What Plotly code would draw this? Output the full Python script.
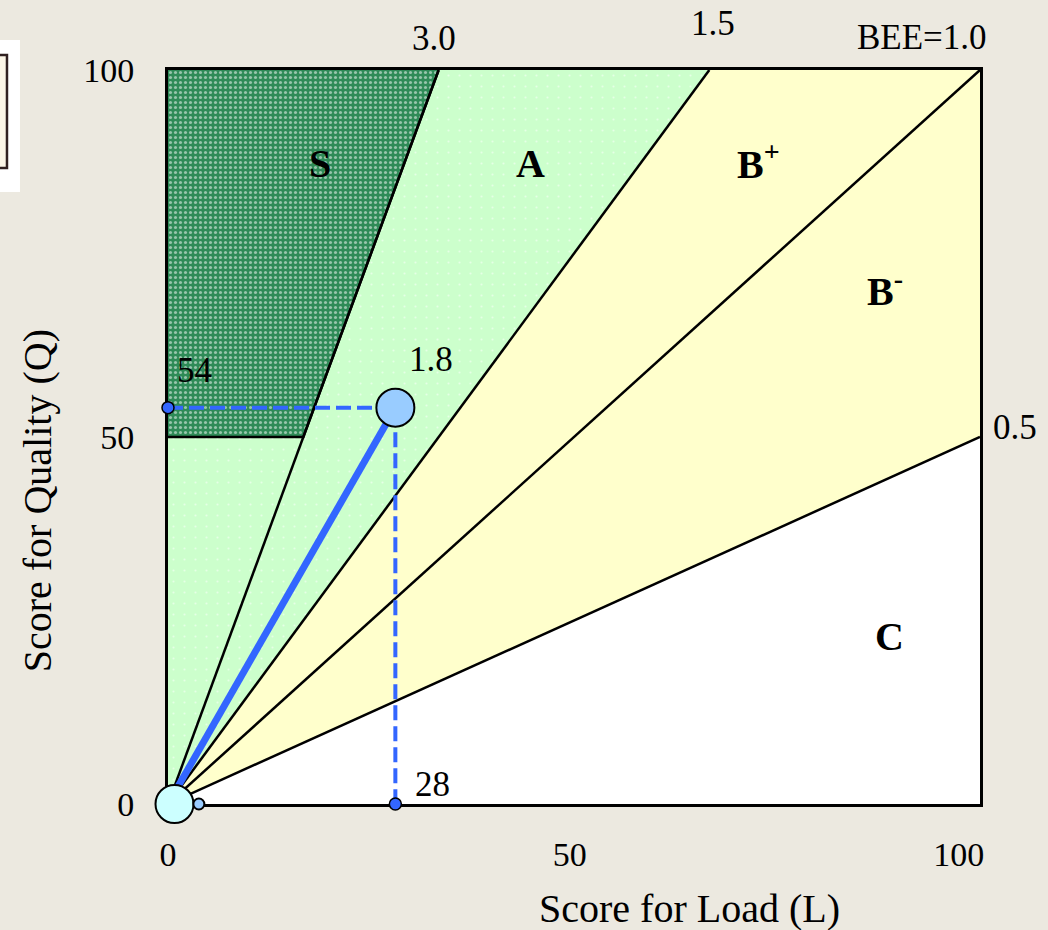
import plotly.graph_objects as go

# BEE rank boundaries (Q = BEE * L) and the assessed building
bee_lines = [3.0, 1.5, 1.0, 0.5]
bee_labels = ["3.0", "1.5", "BEE=1.0", "0.5"]
s_rank_q_min = 50
score_l = 28
score_q = 54
bee_text = "1.8"
ref_l = [0.8, 3.8]      # circles near the origin
ref_q = [0, 0]

rank_names = ["S", "A", "B<sup>+</sup>", "B<sup>-</sup>", "C"]
rank_l = [18.7, 44.6, 72.7, 88.3, 88.9]
rank_q = [87.3, 87.3, 87.5, 70.3, 22.8]

tick_vals = [0, 50, 100]
x_tick_text = ["0", "50\u00a0", "100\u00a0\u00a0\u00a0\u00a0\u00a0"]
y_tick_text = ["0", "50", "100"]

FONT = "Liberation Serif, Times New Roman, serif"
BLUE = "#3366FF"
BG = "#ECE9E0"


def end_point(bee):
    # where the line Q = bee * L leaves the 100 x 100 square
    if bee >= 1:
        return 100 / bee, 100
    return 100, 100 * bee


ends = [end_point(b) for b in bee_lines]
s_corner = s_rank_q_min / bee_lines[0]

fig = go.Figure()

# B+ / B- (yellow)
fig.add_trace(go.Scatter(
    x=[0, ends[3][0], 100, ends[1][0], 0], y=[0, ends[3][1], 100, ends[1][1], 0],
    fill="toself", fillcolor="#FFFFCC", mode="none", hoverinfo="skip"))

# A (light green, sparse dots)
fig.add_trace(go.Scatter(
    x=[0, ends[1][0], 0, 0], y=[0, ends[1][1], 100, 0],
    fill="toself", mode="none", hoverinfo="skip",
    fillcolor="#CCFFCC",
    fillpattern=dict(shape=".", bgcolor="#CCFFCC", fgcolor="white",
                     size=11, solidity=0.03)))

# S (dark green, dense dots)
fig.add_trace(go.Scatter(
    x=[0, s_corner, ends[0][0], 0, 0], y=[s_rank_q_min, s_rank_q_min, 100, 100, s_rank_q_min],
    fill="toself", mode="none", hoverinfo="skip",
    fillcolor="#2E8B57",
    fillpattern=dict(shape=".", bgcolor="#2E8B57", fgcolor="white",
                     size=5, solidity=0.3)))

# rank boundary lines
for ex, ey in ends:
    fig.add_trace(go.Scatter(x=[0, ex], y=[0, ey], mode="lines",
                             line=dict(color="black", width=2.5), hoverinfo="skip"))
fig.add_trace(go.Scatter(x=[0, s_corner, ends[0][0]], y=[s_rank_q_min, s_rank_q_min, 100],
                         mode="lines", line=dict(color="black", width=2.5), hoverinfo="skip"))

# guide lines to the axes
fig.add_trace(go.Scatter(x=[0, score_l, score_l], y=[score_q, score_q, 0], mode="lines",
                         line=dict(color=BLUE, width=4, dash="15px,6px"), hoverinfo="skip"))

# BEE gradient line
fig.add_trace(go.Scatter(x=[0, score_l], y=[0, score_q], mode="lines",
                         line=dict(color=BLUE, width=7), cliponaxis=False, hoverinfo="skip"))

# markers
fig.add_trace(go.Scatter(x=ref_l, y=ref_q, mode="markers", cliponaxis=False,
                         marker=dict(size=[38, 11], color=["#CCFFFF", "#99CCFF"], opacity=1,
                                     line=dict(color="black", width=2))))
fig.add_trace(go.Scatter(x=[0, score_l], y=[score_q, 0], mode="markers", cliponaxis=False,
                         marker=dict(size=12, color=BLUE, opacity=1,
                                     line=dict(color="black", width=1.5))))
fig.add_trace(go.Scatter(x=[score_l], y=[score_q], mode="markers", cliponaxis=False,
                         marker=dict(size=38, color="#99CCFF", opacity=1,
                                     line=dict(color="black", width=2))))

# rank letters
for name, lx, ly in zip(rank_names, rank_l, rank_q):
    fig.add_annotation(x=lx, y=ly, text="<b>%s</b>" % name, showarrow=False,
                       xanchor="center", yanchor="middle",
                       font=dict(size=40, family=FONT, color="black"))

# BEE values at the line ends (outside the plot, so paper coordinates)
bee_pos = [(0.328, 1.043), (0.6706, 1.0627), (0.928, 1.0443), (1.0425, 0.513)]
for txt, (px, py) in zip(bee_labels, bee_pos):
    fig.add_annotation(x=px, y=py, xref="paper", yref="paper", text=txt, showarrow=False,
                       xanchor="center", yanchor="middle",
                       font=dict(size=35, family=FONT, color="black"))

# values of the assessed point
for txt, lx, ly in [(str(score_q), 3.26, 59.0), (bee_text, 32.4, 60.5), (str(score_l), 32.6, 2.7)]:
    fig.add_annotation(x=lx, y=ly, text=txt, showarrow=False,
                       xanchor="center", yanchor="middle",
                       font=dict(size=35, family=FONT, color="black"))

# axis titles (placed off-centre as in the original)
fig.add_annotation(x=0.642, y=-0.142, xref="paper", yref="paper", text="Score for Load (L)",
                   xanchor="center", yanchor="middle",
                   showarrow=False, font=dict(size=40, family=FONT, color="black"))
fig.add_annotation(x=-0.161, y=0.4128, xref="paper", yref="paper", text="Score for Quality (Q)",
                   xanchor="center", yanchor="middle",
                   textangle=-90, showarrow=False, font=dict(size=40, family=FONT, color="black"))

# cropped legend box at the left edge
fig.add_shape(type="rect", xref="paper", yref="paper", x0=-0.21, x1=-0.1823, y0=0.8338, y1=1.0409,
              fillcolor="white", line=dict(width=0), layer="above")
fig.add_shape(type="rect", xref="paper", yref="paper", x0=-0.22, x1=-0.1983, y0=0.8665, y1=1.0204,
              fillcolor="#FBF5E6", line=dict(color="#302020", width=2.5), layer="above")

axis_style = dict(range=[0, 100], tickvals=tick_vals, showgrid=False, zeroline=False,
                  showline=True, mirror=True, linecolor="black", linewidth=3,
                  ticks="", layer="below traces",
                  tickfont=dict(size=34, family=FONT, color="black"))

fig.update_layout(
    width=1048, height=930,
    margin=dict(l=168, r=68, t=70, b=126),
    paper_bgcolor=BG, plot_bgcolor="white",
    showlegend=False,
    xaxis=dict(**axis_style, ticktext=x_tick_text, ticklabelstandoff=18),
    yaxis=dict(**axis_style, ticktext=y_tick_text, ticklabelstandoff=24),
)

fig.write_html("out.html", config={"displayModeBar": False},
               post_script="document.body.style.margin='0';document.body.style.background='%s';" % BG)
